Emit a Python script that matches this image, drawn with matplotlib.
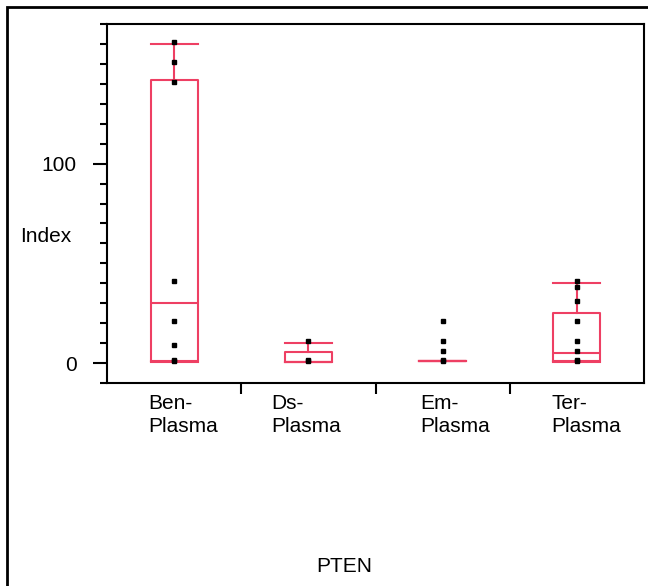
import matplotlib
matplotlib.use('Agg')
import matplotlib.pyplot as plt
from matplotlib.patches import Rectangle
from matplotlib.ticker import MultipleLocator

plt.rcParams['font.family'] = ['Liberation Sans', 'DejaVu Sans']

groups = ['Ben-\nPlasma', 'Ds-\nPlasma', 'Em-\nPlasma', 'Ter-\nPlasma']

# box statistics
whislo = [0.5, 0.5, 1, 0.5]
q1 = [1, 0.7, 1, 1]
med = [30, 0.7, 1, 5]
q3 = [142, 5.3, 1, 25]
whishi = [160, 10, 1, 40]

# individual points
ben_pts = [1, 1.5, 9, 21, 41, 141, 151, 161]
ds_pts = [1, 1.5, 11]
em_pts = [1, 1.5, 6, 11, 21]
ter_pts = [1, 1.5, 6, 11, 21, 31, 38, 41]
points = [ben_pts, ds_pts, em_pts, ter_pts]

red = '#ee3f63'

fig = plt.figure(figsize=(6.48, 5.86), dpi=100)
W, H = 648, 586
ax = fig.add_axes([107 / W, (H - 383) / H, (644 - 107) / W, (383 - 24) / H])

stats = []
for i in range(len(groups)):
    stats.append(dict(med=med[i], q1=q1[i], q3=q3[i], whislo=whislo[i], whishi=whishi[i], fliers=[]))
pos = [1, 2, 3, 4]
ax.bxp(stats, positions=pos, widths=0.35, showfliers=False, capwidths=0.35,
       boxprops=dict(color=red, lw=1.5), whiskerprops=dict(color=red, lw=1.5),
       capprops=dict(color=red, lw=1.5), medianprops=dict(color=red, lw=1.5))

for p, pts in zip(pos, points):
    ax.plot([p] * len(pts), pts, 's', color='black', ms=3, zorder=5)

ax.set_xlim(0.5, 4.5)
ax.set_ylim(-10, 170)

# x ticks at category boundaries, labels written below each box
ax.set_xticks([1.5, 2.5, 3.5])
ax.set_xticklabels([])
ax.tick_params(axis='x', which='major', direction='out', length=8, width=1.5)
label_shift = [-0.19, -0.28, -0.17, -0.19]
for p, g, dx in zip(pos, groups, label_shift):
    ax.text(p + dx, -0.03, g, transform=ax.get_xaxis_transform(), fontsize=15,
            ha='left', va='top', linespacing=1.3)

ax.set_yticks([0, 100])
ax.set_yticklabels(['0', '100'], fontsize=15)
ax.yaxis.set_minor_locator(MultipleLocator(10))
ax.tick_params(axis='y', which='major', direction='out', length=10, width=1.5, pad=12)
ax.tick_params(axis='y', which='minor', direction='out', length=5, width=1.5)

for s in ax.spines.values():
    s.set_linewidth(1.5)

fig.text(46 / W, (H - 236) / H, 'Index', fontsize=15, ha='center', va='center')
fig.text(344 / W, (H - 566) / H, 'PTEN', fontsize=15, ha='center', va='center')

# outer frame, cut off at the right and bottom edges
fig.patches.append(Rectangle((7 / W, -0.1), 1.2, (H - 7) / H + 0.1, transform=fig.transFigure,
                             fill=False, edgecolor='black', lw=2, clip_on=False))

fig.savefig('out.png', dpi=100)
